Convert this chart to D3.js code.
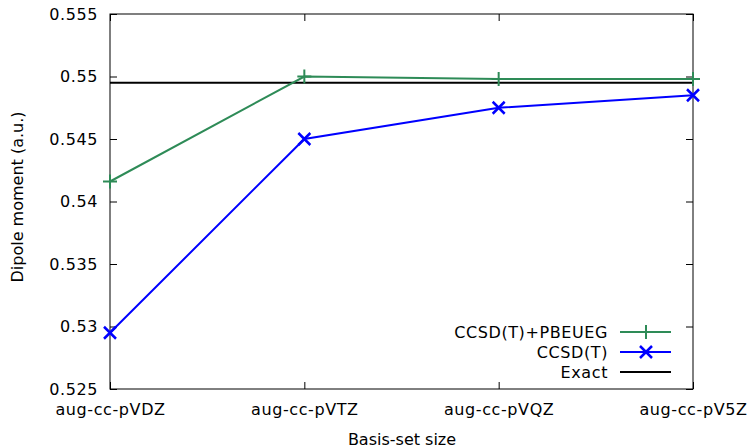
<!DOCTYPE html>
<html>
<head>
<meta charset="utf-8">
<script src="https://cdn.jsdelivr.net/npm/d3@7"></script>
<style>
  body { margin: 0; background: #fff; }
  text { font-family: "DejaVu Sans", sans-serif; font-size: 16px; fill: #000; }
  .lbl { letter-spacing: 0.6px; }
</style>
</head>
<body>
<svg id="chart" width="750" height="448"></svg>
<script>
const basisSets = ['aug-cc-pVDZ', 'aug-cc-pVTZ', 'aug-cc-pVQZ', 'aug-cc-pV5Z'];
const pbeueg = [0.5416, 0.5500, 0.5498, 0.5498];
const ccsdt = [0.5295, 0.5450, 0.5475, 0.5485];
const exact = 0.5495;
const yTicks = [0.525, 0.53, 0.535, 0.54, 0.545, 0.55, 0.555];

const margin = {left: 110, right: 57, top: 14, bottom: 59};
const width = 750, height = 448;
const svg = d3.select('#chart');

const x = d3.scalePoint().domain(basisSets).range([margin.left, width - margin.right]);
const y = d3.scaleLinear().domain([0.525, 0.555]).range([height - margin.bottom, margin.top]);

const tickLen = 7;
const fmt = d => String(+d.toFixed(3));

// axes with inward ticks, mirrored
svg.append('g')
  .attr('transform', `translate(${margin.left},0)`)
  .call(d3.axisLeft(y).tickValues(yTicks).tickSize(-tickLen).tickPadding(tickLen + 5).tickFormat(fmt))
  .call(g => g.select('.domain').remove());
svg.append('g')
  .attr('transform', `translate(${width - margin.right},0)`)
  .call(d3.axisRight(y).tickValues(yTicks).tickSize(-tickLen).tickFormat(''))
  .call(g => g.select('.domain').remove());
svg.append('g')
  .attr('transform', `translate(0,${height - margin.bottom})`)
  .call(d3.axisBottom(x).tickSize(-tickLen).tickPadding(tickLen + 8))
  .call(g => g.select('.domain').remove());
svg.append('g')
  .attr('transform', `translate(0,${margin.top})`)
  .call(d3.axisTop(x).tickSize(-tickLen).tickFormat(''))
  .call(g => g.select('.domain').remove());

svg.selectAll('.tick text').attr('class', 'lbl')
  .style('font-size', '16px').style('font-family', '"DejaVu Sans", sans-serif');
svg.selectAll('.tick line').attr('stroke', '#000');

// frame
svg.append('rect')
  .attr('x', margin.left).attr('y', margin.top)
  .attr('width', width - margin.left - margin.right)
  .attr('height', height - margin.top - margin.bottom)
  .attr('fill', 'none').attr('stroke', '#000').attr('stroke-width', 1);

// axis titles
svg.append('text')
  .attr('transform', `translate(23,197) rotate(-90)`)
  .attr('text-anchor', 'middle')
  .text('Dipole moment (a.u.)');
svg.append('text')
  .attr('x', 402)
  .attr('y', 445)
  .attr('text-anchor', 'middle')
  .text('Basis-set size');

// exact line
svg.append('line')
  .attr('x1', margin.left).attr('x2', width - margin.right)
  .attr('y1', y(exact)).attr('y2', y(exact))
  .attr('stroke', '#000').attr('stroke-width', 2);

const line = d3.line().x((d, i) => x(basisSets[i])).y(d => y(d));
const green = '#2e8b57', blue = '#0000ff';

function plusPath(cx, cy, r) {
  return `M${cx - r},${cy}H${cx + r}M${cx},${cy - r}V${cy + r}`;
}
function crossPath(cx, cy, r) {
  return `M${cx - r},${cy - r}L${cx + r},${cy + r}M${cx - r},${cy + r}L${cx + r},${cy - r}`;
}

svg.append('path').datum(pbeueg).attr('d', line)
  .attr('fill', 'none').attr('stroke', green).attr('stroke-width', 2);
svg.append('g').selectAll('path').data(pbeueg).join('path')
  .attr('d', (d, i) => plusPath(x(basisSets[i]), y(d), 7))
  .attr('stroke', green).attr('stroke-width', 2);

svg.append('path').datum(ccsdt).attr('d', line)
  .attr('fill', 'none').attr('stroke', blue).attr('stroke-width', 2);
svg.append('g').selectAll('path').data(ccsdt).join('path')
  .attr('d', (d, i) => crossPath(x(basisSets[i]), y(d), 6))
  .attr('stroke', blue).attr('stroke-width', 2.5);

// legend
const legend = [
  {name: 'CCSD(T)+PBEUEG', color: green, mark: plusPath, r: 7},
  {name: 'CCSD(T)', color: blue, mark: crossPath, r: 6},
  {name: 'Exact', color: '#000', mark: null}
];
const lg = svg.append('g');
legend.forEach((d, i) => {
  const ly = 332 + i * 20;
  lg.append('text').attr('class', 'lbl').attr('x', 608).attr('y', ly + 6)
    .attr('text-anchor', 'end').text(d.name);
  lg.append('line').attr('x1', 620).attr('x2', 671).attr('y1', ly).attr('y2', ly)
    .attr('stroke', d.color).attr('stroke-width', 2);
  if (d.mark) lg.append('path').attr('d', d.mark(646, ly, d.r))
    .attr('stroke', d.color).attr('stroke-width', d.r === 6 ? 2.5 : 2);
});
</script>
</body>
</html>
